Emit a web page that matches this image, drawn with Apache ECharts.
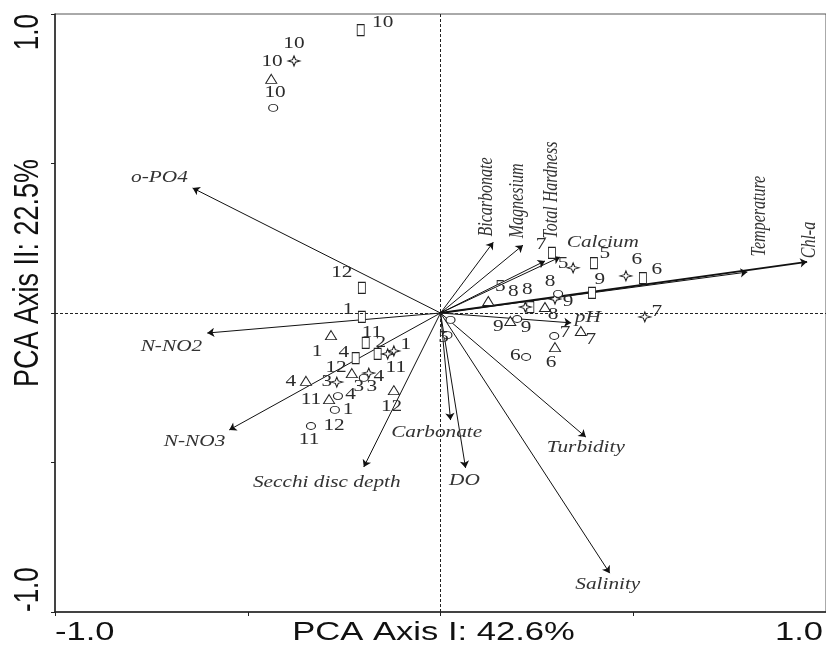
<!DOCTYPE html>
<html><head><meta charset="utf-8">
<script src="https://cdn.jsdelivr.net/npm/echarts@6/dist/echarts.min.js"></script>
<style>html,body{margin:0;padding:0;background:#fff}#c{width:826px;height:646px}</style>
</head><body><div id="c"></div>
<script>
// ---- Environmental variables (biplot loadings) ----
const variables = ['o-PO4','N-NO2','N-NO3','Secchi disc depth','Carbonate','DO','Salinity','Turbidity','pH','Chl-a','Temperature','Calcium','Total Hardness','Magnesium','Bicarbonate'];
const loadX = [-0.643,-0.605,-0.548,-0.199,0.026,0.065,0.439,0.377,0.339,0.951,0.796,0.310,0.271,0.214,0.137];
const loadY = [0.418,-0.067,-0.391,-0.515,-0.358,-0.518,-0.870,-0.415,-0.033,0.171,0.137,0.187,0.174,0.227,0.237];
// label anchors (data units) and orientation (1 = vertical)
const varLabelX = [-0.729,-0.698,-0.638,-0.295,-0.010,0.062,0.434,0.377,0.382,0.956,0.827,0.421,0.287,0.199,0.119];
const varLabelY = [0.452,-0.114,-0.431,-0.569,-0.401,-0.562,-0.910,-0.452,-0.017,0.244,0.324,0.234,0.411,0.375,0.388];
const varLabelVertical = [0,0,0,0,0,0,0,0,0,1,1,0,1,1,1];

// ---- Samples: [axis I, axis II, month] per site ----
const siteSquare = [[-0.207,0.946,10],[-0.204,0.084,12],[-0.204,-0.013,1],[-0.194,-0.100,11],[-0.220,-0.151,4],[-0.163,-0.137,2],[0.289,0.201,7],[0.398,0.167,5],[0.525,0.117,6],[0.393,0.067,9],[0.233,0.020,8]];
const siteStar = [[-0.380,0.843,10],[0.344,0.151,5],[0.481,0.124,6],[0.530,-0.013,7],[0.297,0.047,9],[0.220,0.020,8],[-0.121,-0.127,1],[-0.137,-0.137,11],[-0.186,-0.201,4],[-0.269,-0.231,3]];
const siteTriangle = [[-0.439,0.783,10],[0.124,0.040,5],[0.271,0.020,8],[0.181,-0.027,9],[0.364,-0.060,7],[0.297,-0.114,6],[-0.284,-0.074,1],[-0.349,-0.227,4],[-0.230,-0.201,3],[-0.289,-0.288,11],[-0.121,-0.258,12]];
const siteCircle = [[-0.434,0.686,10],[0.026,-0.023,2],[0.018,-0.074,5],[0.199,-0.020,9],[0.305,0.064,8],[0.295,-0.077,7],[0.222,-0.147,6],[-0.199,-0.217,3],[-0.266,-0.278,4],[-0.274,-0.324,1],[-0.336,-0.378,11]];

// ---- Month labels: [text, axis I, axis II] ----
const monthLabels = [
 ['10',-0.150,0.970],['10',-0.380,0.900],['10',-0.437,0.839],['10',-0.429,0.736],
 ['12',-0.256,0.134],['1',-0.240,0.010],['11',-0.178,-0.067],['1',-0.320,-0.130],['4',-0.251,-0.134],
 ['2',-0.155,-0.100],['1',-0.090,-0.107],['11',-0.116,-0.184],['12',-0.271,-0.184],['4',-0.160,-0.214],
 ['3',-0.212,-0.247],['3',-0.178,-0.247],['4',-0.388,-0.231],['3',-0.295,-0.231],['11',-0.336,-0.291],
 ['4',-0.233,-0.274],['1',-0.240,-0.324],['12',-0.127,-0.314],['12',-0.276,-0.378],['11',-0.341,-0.425],
 ['7',0.261,0.227],['5',0.426,0.197],['5',0.318,0.164],['6',0.509,0.177],['6',0.561,0.144],['9',0.413,0.110],
 ['8',0.284,0.104],['8',0.189,0.070],['8',0.225,0.077],['5',0.155,0.087],['9',0.331,0.037],['8',0.292,-0.007],
 ['7',0.561,0.003],['9',0.150,-0.047],['9',0.222,-0.050],['7',0.323,-0.067],['7',0.390,-0.090],
 ['6',0.194,-0.144],['6',0.287,-0.167],['5',0.008,-0.084]
];

// ---- Axes ----
const axisMin = -1, axisMax = 1, axisStep = 0.5;
const xTickValues = [-1, 1], xTickLabels = ['-1.0','1.0'];
const yTickValues = [-1, 1], yTickLabels = ['-1.0','1.0'];
const xTitle = 'PCA Axis I: 42.6%';
const yTitle = 'PCA Axis II: 22.5%';

const SX = 1.33; // horizontal stretch of the original picture
const SERIF = '"Liberation Serif","Times New Roman",serif';
const SANS = '"Liberation Sans",Arial,sans-serif';

const chart = echarts.init(document.getElementById('c'), null, {renderer:'canvas'});

function textItem(p, text, font, align, vAlign, vertical, fill){
  return {
    type:'text', x:p[0], y:p[1],
    rotation: vertical ? Math.PI/2 : 0,
    scaleX: vertical ? 1 : SX, scaleY: vertical ? SX : 1,
    style:{text:text, font:font, fill:fill||'#2b2b2b', align:align, verticalAlign:vAlign}
  };
}

// axis annotation items: [xValue, yValue, kind, index]
const axisTextData = [];
xTickValues.forEach((v,i)=>axisTextData.push([v, axisMin, 0, i]));
yTickValues.forEach((v,i)=>axisTextData.push([axisMin, v, 1, i]));
axisTextData.push([0, axisMin, 2, 0]);
axisTextData.push([axisMin, 0, 3, 0]);

const symbolStyle = {color:'#fff', borderColor:'#222', borderWidth:1, opacity:1};
const starPath = 'path://M0,-6L1.5,-1.5L6,0L1.5,1.5L0,6L-1.5,1.5L-6,0L-1.5,-1.5Z';

chart.setOption({
  animation:false,
  backgroundColor:'#fff',
  grid:{left:55, top:14, width:774, height:598, show:true, borderColor:'#555', borderWidth:1, containLabel:false},
  xAxis:{type:'value', min:axisMin, max:axisMax, interval:axisStep,
    axisLine:{show:true, onZero:false, lineStyle:{color:'#222', width:1.5}},
    axisTick:{show:true, inside:false, length:4, lineStyle:{color:'#222'}},
    axisLabel:{show:false}, splitLine:{show:false}},
  yAxis:{type:'value', min:axisMin, max:axisMax, interval:axisStep,
    axisLine:{show:true, onZero:false, lineStyle:{color:'#222', width:1.5}},
    axisTick:{show:true, inside:false, length:4, lineStyle:{color:'#222'}},
    axisLabel:{show:false}, splitLine:{show:false}},
  series:[
    {
      type:'lines', coordinateSystem:'cartesian2d', silent:true, z:2,
      symbol:['none','arrow'], symbolSize:7,
      lineStyle:{color:'#111', width:1, opacity:1},
      data: variables.map((v,i)=>({coords:[[0,0],[loadX[i],loadY[i]]],
        lineStyle:{width: v==='Chl-a' ? 2 : 1}})),
      markLine:{silent:true, symbol:'none', label:{show:false},
        lineStyle:{color:'#222', type:[3,2], width:1},
        data:[{xAxis:0},{yAxis:0}]}
    },
    {type:'scatter', z:3, silent:true, symbol:'rect', symbolSize:[7,11], itemStyle:symbolStyle, data:siteSquare},
    {type:'scatter', z:3, silent:true, symbol:starPath, symbolSize:[12,10], itemStyle:symbolStyle, data:siteStar},
    {type:'scatter', z:3, silent:true, symbol:'triangle', symbolSize:[11,9], itemStyle:symbolStyle, data:siteTriangle},
    {type:'scatter', z:3, silent:true, symbol:'circle', symbolSize:[9,7], itemStyle:symbolStyle, data:siteCircle},
    {
      type:'custom', z:4, silent:true, clip:false,
      data: variables.map((v,i)=>[varLabelX[i], varLabelY[i], varLabelVertical[i]]),
      renderItem:(params, api)=>{
        const i = params.dataIndex;
        const p = api.coord([api.value(0), api.value(1)]);
        return textItem(p, variables[i], 'italic 16px '+SERIF, 'center','middle', api.value(2)===1, '#333');
      }
    },
    {
      type:'custom', z:4, silent:true, clip:false,
      data: monthLabels.map(d=>[d[1], d[2]]),
      renderItem:(params, api)=>{
        const i = params.dataIndex;
        const p = api.coord([api.value(0), api.value(1)]);
        return textItem(p, monthLabels[i][0], '16px '+SERIF, 'center','middle', false, '#2b2b2b');
      }
    },
    {
      type:'custom', z:4, silent:true, clip:false,
      data: axisTextData,
      renderItem:(params, api)=>{
        const kind = api.value(2), idx = api.value(3);
        const p = api.coord([api.value(0), api.value(1)]);
        const f = '26px '+SANS;
        if (kind===0){
          const right = xTickValues[idx] > 0;
          return textItem([p[0] + (right?-3:0), p[1]+21], xTickLabels[idx], f, right?'right':'left', 'middle', false, '#111');
        }
        if (kind===1){
          const top = yTickValues[idx] > 0;
          return textItem([p[0]-27, p[1] + (top?0:0)], yTickLabels[idx], f, top?'right':'left', 'middle', true, '#111');
        }
        if (kind===2){
          return textItem([p[0]-7, p[1]+21], xTitle, f, 'center','middle', false, '#111');
        }
        return textItem([p[0]-27, p[1]-40], yTitle, '27px '+SANS, 'center','middle', true, '#111');
      }
    }
  ]
});
</script>
</body></html>
